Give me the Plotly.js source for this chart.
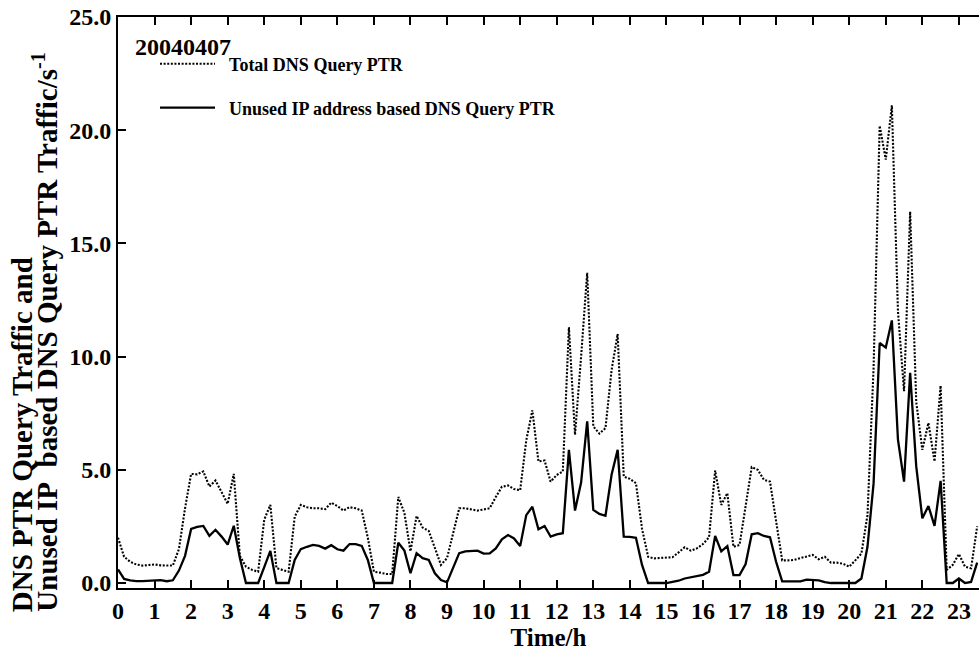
<!DOCTYPE html>
<html>
<head>
<meta charset="utf-8">
<script src="https://cdn.plot.ly/plotly-3.0.1.min.js"></script>
<style>html,body{margin:0;padding:0;background:#fff;}#chart{width:979px;height:655px;}</style>
</head>
<body>
<div id="chart"></div>
<script>
// Sampling: one value every 10 minutes, starting at 0 h
const startHour = 0;
const stepHour = 1 / 6;

// Total DNS Query PTR (queries/s)
const totalPTR = [
  2.0, 1.16, 0.94, 0.82, 0.77, 0.78, 0.82, 0.78, 0.76, 0.77, 1.5, 3.3,
  4.82, 4.8, 4.93, 4.26, 4.53, 4.0, 3.5, 4.82, 1.2, 0.72, 0.58, 0.5,
  2.8, 3.45, 0.66, 0.58, 0.5, 2.93, 3.45, 3.35, 3.3, 3.3, 3.26, 3.55,
  3.4, 3.2, 3.35, 3.3, 3.2, 2.0, 0.5, 0.46, 0.4, 0.4, 3.8, 3.1,
  1.4, 2.96, 2.45, 2.3, 1.5, 0.8, 1.1, 2.2, 3.3, 3.3, 3.25, 3.2,
  3.25, 3.3, 3.8, 4.25, 4.31, 4.15, 4.1, 6.3, 7.63, 5.37, 5.41, 4.48,
  4.77, 4.93, 11.3, 6.55, 10.0, 13.7, 6.92, 6.6, 6.84, 9.4, 11.0, 4.7,
  4.6, 4.41, 2.4, 1.16, 1.09, 1.1, 1.12, 1.14, 1.35, 1.58, 1.43, 1.53,
  1.72, 2.02, 4.97, 3.45, 3.97, 1.6, 1.68, 3.3, 5.12, 5.0, 4.56, 4.48,
  2.7, 1.0, 1.0, 1.02, 1.1, 1.16, 1.24, 1.05, 1.16, 0.9, 0.9, 0.85,
  0.72, 1.0, 1.3, 3.0, 9.5, 20.2, 18.7, 21.1, 12.0, 8.47, 16.4, 8.0,
  5.88, 7.07, 5.37, 8.72, 0.58, 0.8, 1.28, 0.72, 0.65, 2.5
];

// Unused IP address based DNS Query PTR (queries/s)
const unusedPTR = [
  0.6, 0.18, 0.12, 0.08, 0.08, 0.1, 0.13, 0.13, 0.08, 0.12, 0.55, 1.2,
  2.39, 2.48, 2.52, 2.08, 2.35, 2.05, 1.7, 2.53, 1.1, 0, 0, 0,
  0.7, 1.42, 0, 0, 0, 1.02, 1.5, 1.6, 1.68, 1.64, 1.52, 1.67,
  1.49, 1.43, 1.72, 1.72, 1.64, 1.02, 0, 0, 0, 0, 1.78, 1.43,
  0.43, 1.32, 1.1, 1.02, 0.43, 0.13, 0.03, 0.72, 1.32, 1.4, 1.43, 1.43,
  1.3, 1.31, 1.53, 1.93, 2.12, 1.97, 1.63, 3.0, 3.37, 2.37, 2.52, 2.05,
  2.15, 2.2, 5.88, 3.2, 4.44, 7.14, 3.23, 3.05, 2.97, 4.78, 5.88, 2.05,
  2.04, 2.0, 0.8, 0, 0, 0, 0, 0.05, 0.1, 0.2, 0.25, 0.28,
  0.36, 0.5, 2.08, 1.4, 1.63, 0.35, 0.35, 0.84, 2.15, 2.2, 2.08, 2.02,
  0.94, 0.07, 0.07, 0.07, 0.07, 0.15, 0.15, 0.12, 0.04, 0, 0, 0,
  0, 0, 0.2, 1.6, 4.4, 10.6, 10.4, 11.6, 6.33, 4.48, 9.28, 5.15,
  2.86, 3.4, 2.52, 4.51, 0, 0, 0.2, 0, 0.05, 0.9
];

const xTickVals = [0,1,2,3,4,5,6,7,8,9,10,11,12,13,14,15,16,17,18,19,20,21,22,23];
const yTickVals = [0, 5, 10, 15, 20, 25];
const yTickText = ["0.0", "5.0", "10.0", "15.0", "20.0", "25.0"];

const seriesNames = ["Total DNS Query PTR", "Unused IP address based DNS Query PTR"];
const dateLabel = "20040407";
const yTitleLine1 = "DNS PTR Query Traffic and";
const yTitleLine2 = "Unused IP\u00a0 based DNS Query PTR Traffic/s<sup>-1</sup>";
const xTitle = "Time/h";

const FONT = "Liberation Serif, Times New Roman, serif";
const PAD = "\u00a0\u00a0";

const traces = [
  {
    type: "scatter", mode: "lines", name: PAD + seriesNames[0],
    x0: startHour, dx: stepHour, y: totalPTR,
    line: {color: "#000", width: 2.1, dash: "2px,1.6px"},
    legend: "legend"
  },
  {
    type: "scatter", mode: "lines", name: PAD + seriesNames[1],
    x0: startHour, dx: stepHour, y: unusedPTR,
    line: {color: "#000", width: 2.3},
    legend: "legend2"
  }
];

const axisCommon = {
  showgrid: false, zeroline: false, showline: true,
  linecolor: "#000", linewidth: 2,
  ticks: "inside", tickcolor: "#000", tickwidth: 2, ticklen: 8,
  tickfont: {family: FONT, size: 24, color: "#000", weight: "bold"}
};

const legendCommon = {
  xanchor: "left", yanchor: "middle",
  bgcolor: "rgba(0,0,0,0)", borderwidth: 0,
  itemwidth: 55,
  font: {family: FONT, size: 18, color: "#000", weight: "bold"}
};

const layout = {
  width: 979, height: 655,
  margin: {l: 118, r: 0, t: 17, b: 67},
  paper_bgcolor: "#fff", plot_bgcolor: "#fff",
  showlegend: true,
  xaxis: Object.assign({}, axisCommon, {
    range: [0, 23.55], tickmode: "array", tickvals: xTickVals,
    mirror: "ticks",
    title: {text: xTitle, font: {family: FONT, size: 25, color: "#000", weight: "bold"}, standoff: 5}
  }),
  yaxis: Object.assign({}, axisCommon, {
    range: [-0.22, 25], tickmode: "array", tickvals: yTickVals, ticktext: yTickText,
    mirror: false
  }),
  legend: Object.assign({}, legendCommon, {x: 0.043, y: 0.9177}),
  legend2: Object.assign({}, legendCommon, {x: 0.043, y: 0.8406}),
  annotations: [
    {text: dateLabel, xref: "paper", yref: "paper", x: 0.0174, y: 0.947,
     xanchor: "left", yanchor: "middle", showarrow: false,
     font: {family: FONT, size: 24, color: "#000", weight: "bold"}},
    {text: yTitleLine1, xref: "paper", yref: "paper", x: -0.1115, y: -0.045,
     xanchor: "center", yanchor: "bottom", textangle: -90, showarrow: false,
     font: {family: FONT, size: 29, color: "#000", weight: "bold"}},
    {text: yTitleLine2, xref: "paper", yref: "paper", x: -0.0848, y: -0.045,
     xanchor: "center", yanchor: "bottom", textangle: -90, showarrow: false,
     font: {family: FONT, size: 29, color: "#000", weight: "bold"}}
  ]
};

Plotly.newPlot("chart", traces, layout, {staticPlot: true, displayModeBar: false});
</script>
</body>
</html>
